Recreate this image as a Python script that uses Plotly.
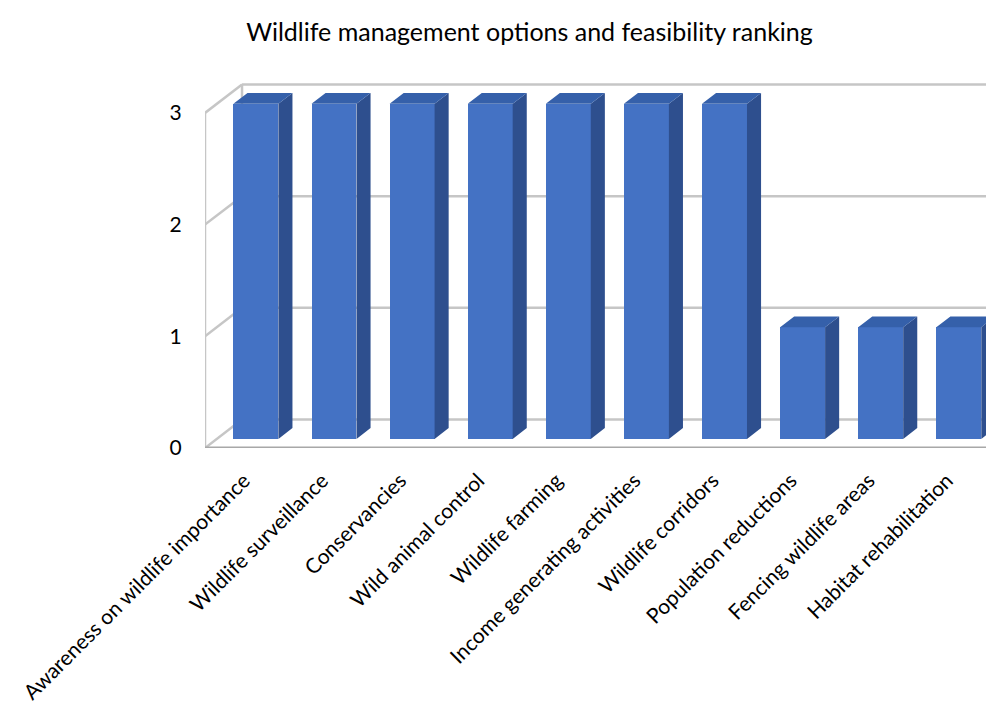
import plotly.graph_objects as go

categories = [
    "Awareness on wildlife importance",
    "Wildlife surveillance",
    "Conservancies",
    "Wild animal control",
    "Wildlife farming",
    "Income generating activities",
    "Wildlife corridors",
    "Population reductions",
    "Fencing wildlife areas",
    "Habitat rehabilitation",
]
values = [3, 3, 3, 3, 3, 3, 3, 1, 1, 1]
y_ticks = [0, 1, 2, 3]

title = "Wildlife management options and feasibility ranking"

# --- oblique 3D projection settings (in data units) ---
n = len(categories)
DX = 0.474   # depth shift along x for full depth
DY = 0.255   # depth shift along y for full depth
D_FRONT = 0.32
D_BACK = 0.70
BAR_W = 0.576

FRONT_COL = "#4472C4"
SIDE_COL = "#2E4F8E"
TOP_COL = "#3560AA"
GRID_COL = "#C6C6C6"
BASE_COL = "#A8A8A8"

font_family = "Lato, 'Gill Sans', 'Open Sans', sans-serif"

fig = go.Figure()

x0 = -0.5
x1 = n - 0.5


def seg(xa, ya, xb, yb, color=GRID_COL, width=2.5):
    fig.add_shape(type="line", xref="x", yref="y", x0=xa, y0=ya, x1=xb, y1=yb,
                  line=dict(color=color, width=width), layer="below")


# back wall gridlines and left wall diagonals
for t in y_ticks:
    seg(x0 + DX, t + DY, x1 + DX, t + DY)
    seg(x0, t, x0 + DX, t + DY)
# left wall vertical edges
seg(x0 + DX, DY, x0 + DX, y_ticks[-1] + DY)
seg(x0, 0, x0, y_ticks[-1])
# front baseline
seg(x0, 0, x1, 0, color=BASE_COL, width=3)

# bars: front faces
base = D_FRONT * DY
xs_front = [i + D_FRONT * DX for i in range(n)]
fig.add_trace(go.Bar(x=xs_front, y=values, base=base, width=BAR_W,
                     marker=dict(color=FRONT_COL, line=dict(width=0)),
                     showlegend=False))

# side and top faces
ddx = (D_BACK - D_FRONT) * DX
ddy = (D_BACK - D_FRONT) * DY
sx, sy, tx, ty = [], [], [], []
for xc, v in zip(xs_front, values):
    xl = xc - BAR_W / 2
    xr = xc + BAR_W / 2
    top = base + v
    sx += [xr, xr, xr + ddx, xr + ddx, xr, None]
    sy += [base, top, top + ddy, base + ddy, base, None]
    tx += [xl, xr, xr + ddx, xl + ddx, xl, None]
    ty += [top, top, top + ddy, top + ddy, top, None]
fig.add_trace(go.Scatter(x=sx, y=sy, mode="lines", fill="toself",
                         fillcolor=SIDE_COL, line=dict(width=0, color=SIDE_COL),
                         hoverinfo="skip", showlegend=False))
fig.add_trace(go.Scatter(x=tx, y=ty, mode="lines", fill="toself",
                         fillcolor=TOP_COL, line=dict(width=0, color=TOP_COL),
                         hoverinfo="skip", showlegend=False))

fig.update_layout(
    width=986, height=711,
    margin=dict(l=205, r=0, t=80, b=263),
    paper_bgcolor="white", plot_bgcolor="white",
    title=dict(text=title, x=0.537, xanchor="center", y=0.955, yanchor="middle",
               font=dict(family=font_family, size=25, color="#000000")),
    font=dict(family=font_family, color="#000000"),
    bargap=0,
    xaxis=dict(range=[x0, x1], tickvals=list(range(n)), ticktext=categories,
               tickangle=-45, showgrid=False, zeroline=False, showline=False,
               automargin=False,
               ticks="outside", ticklen=11, tickcolor="rgba(0,0,0,0)",
               tickfont=dict(size=21, family=font_family, color="#000000")),
    yaxis=dict(range=[0, 3.295], tickvals=y_ticks, showgrid=False,
               zeroline=False, showline=False, automargin=False,
               ticks="outside", ticklen=18, tickcolor="rgba(0,0,0,0)",
               tickfont=dict(size=21, family=font_family, color="#000000")),
)

fig.write_html("out.html")
